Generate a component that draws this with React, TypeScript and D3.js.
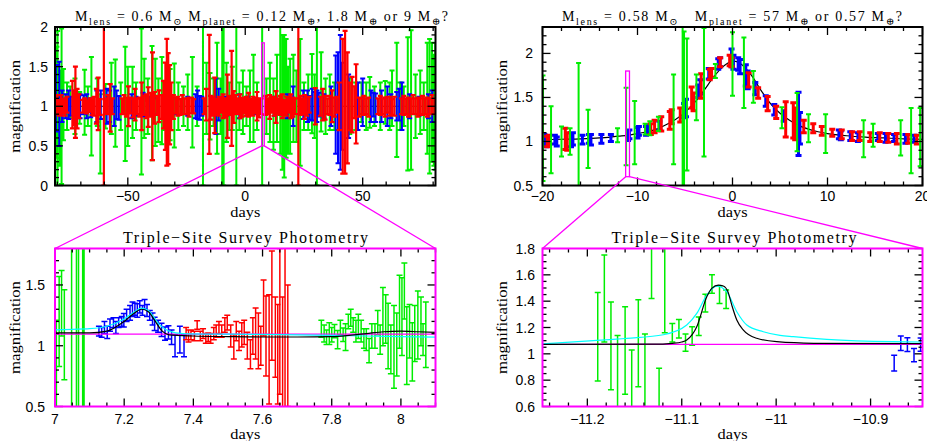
import React from "react";
import * as d3 from "d3";

type Pt = [number, number, number]; // [day, magnification, error]
type XY = [number, number];

// ---------------- Panel 1 : whole season ----------------
const p1Green: Pt[] = [
  [-80.9, 1.0, 1.0], [-80.2, 1.05, 0.7], [-79.9, 0.95, 1.0], [-79.0, 0.85, 0.6], [-78.2, 1.0, 0.98], [-77.4, 1.02, 0.45],
  [-75.9, 1.0, 0.3], [-74.5, 1.05, 0.2], [-72.5, 1.0, 0.35], [-70.5, 0.98, 0.2], [-68.4, 1.05, 0.41], [-67.0, 1.0, 0.25],
  [-65.5, 1.0, 0.62], [-63.0, 1.05, 0.3], [-61.7, 0.65, 0.5], [-59.5, 1.0, 0.28], [-57.0, 1.1, 0.45], [-55.3, 1.04, 0.55],
  [-53.0, 1.0, 0.3], [-51.1, 1.03, 0.72], [-50.0, 1.0, 0.5], [-48.0, 1.05, 0.45], [-46.5, 1.0, 0.3], [-44.2, 1.06, 0.92],
  [-43.0, 1.1, 0.5], [-41.5, 1.0, 0.35], [-39.7, 1.04, 0.72], [-38.3, 1.05, 0.55], [-37.0, 0.95, 0.4], [-35.5, 1.07, 0.55],
  [-34.0, 1.0, 0.3], [-32.0, 1.02, 0.45], [-30.2, 1.01, 0.53], [-28.5, 1.0, 0.3], [-26.3, 1.0, 0.25], [-24.5, 1.05, 0.35],
  [-22.5, 1.05, 0.57], [-20.5, 1.0, 0.25], [-18.0, 1.0, 1.0], [-16.5, 1.1, 0.45], [-15.0, 1.0, 0.42], [-13.5, 1.05, 0.3],
  [-12.0, 1.1, 0.7], [-10.5, 1.0, 0.35], [-9.8, 1.0, 1.0], [-9.2, 1.0, 1.0], [-8.0, 1.05, 0.5], [-6.8, 1.0, 0.3],
  [-5.5, 1.1, 0.4], [-3.8, 1.0, 1.0], [-2.5, 1.0, 0.3], [-1.0, 1.05, 0.4], [0.5, 1.0, 0.25], [2.0, 1.0, 0.45],
  [3.5, 1.1, 0.55], [5.0, 1.0, 0.3], [7.2, 1.0, 1.0], [9.0, 1.0, 0.35], [10.5, 1.05, 0.5], [12.0, 0.9, 0.45],
  [13.5, 1.1, 0.55], [14.9, 1.2, 0.8], [15.8, 1.05, 0.85], [16.6, 1.0, 0.9], [17.4, 1.1, 0.75], [18.2, 0.95, 0.55],
  [19.1, 1.0, 0.6], [20.5, 1.1, 0.55], [21.8, 1.0, 0.45], [23.4, 1.05, 0.8], [25.0, 1.0, 0.3], [26.8, 1.05, 0.35],
  [28.4, 1.16, 0.5], [29.5, 1.0, 0.4], [30.5, 1.0, 1.0], [32.3, 1.18, 0.5], [34.2, 1.0, 0.35], [36.0, 1.05, 0.35],
  [38.0, 1.0, 0.3], [44.5, 1.0, 0.35], [47.0, 1.0, 0.3], [49.5, 1.05, 0.25], [51.5, 1.0, 0.3], [53.0, 1.05, 0.32],
  [55.0, 1.0, 0.25], [57.5, 1.0, 0.3], [59.6, 1.05, 0.27], [61.5, 1.0, 0.3], [62.5, 1.1, 0.35], [64.5, 1.08, 0.72],
  [66.0, 1.0, 0.3], [67.5, 1.0, 0.25], [69.2, 1.03, 0.84], [70.6, 1.08, 0.88], [72.5, 1.0, 0.4], [74.5, 1.05, 0.4],
  [76.0, 1.0, 0.3], [77.5, 1.1, 0.7], [78.5, 1.0, 0.85], [79.5, 1.05, 0.75], [80.3, 0.95, 0.7], [80.9, 1.0, 0.8],
];
const p1Blue: Pt[] = [
  [-80.6, 1.1, 0.42], [-79.2, 1.03, 0.53], [-78.0, 1.0, 0.2], [-76.5, 1.0, 0.15], [-75.2, 1.02, 0.18], [-74.3, 1.0, 0.12],
  [-70.3, 1.0, 0.15], [-68.8, 1.02, 0.12], [-67.5, 1.0, 0.15], [-65.8, 0.98, 0.12], [-63.2, 1.0, 0.2], [-61.5, 1.02, 0.18],
  [-59.0, 1.0, 0.22], [-57.8, 1.0, 0.2], [-55.8, 1.0, 0.25], [-54.8, 1.02, 0.18], [-53.8, 0.98, 0.15], [-48.4, 1.0, 0.15],
  [-46.5, 1.0, 0.12], [-43.5, 1.02, 0.15], [-41.0, 1.0, 0.12], [-37.4, 1.0, 0.1], [-29.2, 1.0, 0.1], [-24.5, 1.0, 0.12],
  [-21.2, 1.0, 0.15], [-20.3, 1.02, 0.18], [-19.4, 0.98, 0.15], [-18.5, 1.0, 0.12], [-12.5, 1.0, 0.35], [-11.3, 1.02, 0.2],
  [-8.0, 1.0, 0.12], [-2.5, 1.0, 0.15], [1.0, 1.0, 0.12], [4.6, 1.0, 0.1], [12.5, 1.0, 0.12], [18.0, 1.0, 0.15],
  [20.4, 1.0, 0.25], [24.7, 1.02, 0.18], [26.5, 1.0, 0.2], [27.5, 0.98, 0.15], [28.5, 1.02, 0.2], [29.5, 1.0, 0.18],
  [30.5, 1.0, 0.2], [31.3, 1.02, 0.15], [33.5, 1.0, 0.15], [36.5, 1.0, 0.25], [38.5, 1.02, 0.62], [39.5, 0.98, 0.7],
  [40.5, 1.05, 0.85], [41.3, 1.0, 0.55], [44.0, 1.0, 0.4], [48.0, 1.0, 0.3], [50.0, 1.05, 0.3], [53.5, 1.0, 0.2],
  [54.5, 1.02, 0.15], [55.5, 0.98, 0.18], [58.0, 1.0, 0.2], [60.5, 1.0, 0.25], [62.0, 1.0, 0.15], [64.5, 1.0, 0.18],
  [65.5, 1.02, 0.2], [66.7, 1.0, 0.3], [70.0, 1.0, 0.15], [74.0, 1.0, 0.12], [78.0, 1.0, 0.15], [79.6, 1.0, 0.2],
];
const p1Red: Pt[] = [
  [-80.8, 1.0, 0.1], [-80.0, 1.02, 0.12], [-79.2, 0.98, 0.1], [-78.4, 1.01, 0.13], [-77.6, 1.0, 0.09], [-76.8, 0.99, 0.11],
  [-75.9, 1.02, 0.1], [-73.6, 1.02, 0.3], [-73.0, 0.98, 0.22], [-72.3, 1.05, 0.45], [-71.6, 0.97, 0.25], [-70.8, 1.0, 0.15],
  [-69.2, 1.0, 0.08], [-68.4, 1.01, 0.09], [-67.6, 0.99, 0.08], [-66.8, 1.0, 0.07], [-66.0, 1.02, 0.08], [-65.2, 0.99, 0.1],
  [-64.4, 1.0, 0.12], [-63.4, 1.0, 0.22], [-62.6, 1.03, 0.33], [-61.8, 0.99, 0.1], [-60.2, 1.0, 1.0], [-59.4, 1.0, 0.1],
  [-58.5, 1.02, 0.12], [-57.5, 0.98, 0.3], [-56.6, 1.0, 0.1], [-52.5, 1.0, 0.1], [-51.6, 1.02, 0.12], [-50.6, 0.99, 0.12],
  [-49.7, 1.0, 0.25], [-48.8, 1.01, 0.1], [-47.8, 0.98, 0.12], [-46.9, 1.02, 0.2], [-46.0, 1.0, 0.1], [-45.0, 0.99, 0.12],
  [-44.1, 1.0, 0.3], [-43.2, 1.01, 0.12], [-42.2, 1.0, 0.15], [-41.3, 0.99, 0.25], [-40.3, 1.02, 0.15], [-39.5, 1.0, 0.68],
  [-38.6, 0.98, 0.2], [-37.6, 1.01, 0.12], [-36.7, 1.0, 0.2], [-35.7, 0.99, 0.15], [-34.8, 1.02, 0.3], [-34.0, 1.0, 0.55],
  [-33.4, 1.05, 0.8], [-32.8, 0.97, 0.7], [-32.2, 1.02, 0.5], [-31.5, 1.0, 0.3], [-30.6, 0.99, 0.15], [-29.6, 1.01, 0.1],
  [-28.7, 1.0, 0.12], [-27.7, 0.99, 0.1], [-26.8, 1.02, 0.12], [-25.8, 1.0, 0.1], [-24.8, 1.0, 0.1], [-23.9, 0.99, 0.12],
  [-22.9, 1.01, 0.1], [-22.0, 1.0, 0.09], [-17.5, 1.0, 0.1], [-16.6, 1.02, 0.2], [-15.3, 1.15, 0.75], [-14.8, 0.98, 0.15],
  [-13.9, 1.0, 0.12], [-13.0, 1.01, 0.35], [-12.1, 0.99, 0.1], [-11.2, 1.0, 0.12], [-10.3, 1.02, 0.1], [-9.4, 1.0, 0.15],
  [-8.5, 0.98, 0.12], [-7.6, 1.0, 0.4], [-6.7, 1.01, 0.12], [-5.8, 1.1, 0.6], [-4.9, 0.99, 0.2], [-4.0, 1.02, 0.12],
  [-3.1, 1.0, 0.1], [-2.2, 1.0, 0.15], [-1.3, 0.99, 0.12], [-0.4, 1.01, 0.1], [0.5, 1.0, 0.12], [1.4, 1.02, 0.15],
  [2.3, 0.99, 0.1], [3.2, 1.0, 0.12], [4.1, 1.01, 0.1], [5.0, 1.0, 0.18], [5.9, 0.98, 0.12], [6.8, 1.0, 0.1],
  [8.6, 1.01, 0.12], [9.5, 1.0, 0.1], [10.4, 0.99, 0.15], [11.3, 1.02, 0.1], [12.2, 1.0, 0.12], [13.1, 0.99, 0.2],
  [14.0, 1.0, 0.1], [14.9, 1.01, 0.12], [15.8, 1.0, 0.15], [16.7, 0.98, 0.1], [17.6, 1.0, 0.12], [18.5, 1.02, 0.1],
  [19.4, 1.0, 0.15], [20.3, 0.99, 0.12], [21.2, 1.0, 0.1], [22.6, 1.0, 1.0], [23.5, 1.01, 0.12], [24.4, 1.0, 0.1],
  [25.3, 0.99, 0.15], [26.2, 1.0, 0.12], [27.2, 1.02, 0.1], [29.8, 1.0, 0.23], [32.0, 1.0, 0.12], [33.0, 1.02, 0.2],
  [34.0, 0.98, 0.15], [35.0, 1.0, 0.1], [36.0, 1.01, 0.12], [37.0, 1.0, 0.2], [38.0, 0.99, 0.12], [39.0, 1.02, 0.1],
  [40.0, 1.0, 0.3], [41.5, 1.0, 0.85], [42.5, 1.05, 0.9], [43.5, 0.98, 0.7], [44.5, 1.0, 0.3], [45.5, 1.02, 0.35],
  [46.5, 1.05, 0.2], [47.2, 1.03, 0.5], [48.5, 0.99, 0.12], [49.5, 1.0, 0.1], [50.5, 1.01, 0.12], [51.5, 1.0, 0.1],
  [52.5, 0.99, 0.12], [56.5, 1.0, 0.1], [57.5, 1.01, 0.12], [58.5, 1.0, 0.1], [59.5, 0.99, 0.12], [60.5, 1.02, 0.1],
  [61.5, 1.0, 0.12], [62.5, 0.99, 0.1], [63.5, 1.0, 0.12], [66.5, 1.0, 0.1], [67.5, 1.01, 0.12], [68.5, 1.0, 0.1],
  [69.5, 0.99, 0.12], [70.5, 1.0, 0.1], [71.5, 1.02, 0.12], [72.5, 1.0, 0.1], [73.5, 0.99, 0.12], [74.5, 1.0, 0.1],
  [75.5, 1.01, 0.12], [76.5, 1.0, 0.1], [77.5, 0.99, 0.12], [78.5, 1.0, 0.1], [79.5, 1.02, 0.12], [80.5, 1.0, 0.1],
];
const p1Model: XY[] = [[-81, 1.0], [81, 1.0]];

// ---------------- Panel 2 : peak of the event ----------------
const p2Blue: Pt[] = [
  [-19.8, 1.02, 0.06], [-19.6, 1.0, 0.06], [-18.7, 1.02, 0.05], [-18.5, 1.0, 0.05], [-17.0, 1.02, 0.08], [-16.8, 1.03, 0.07],
  [-15.8, 1.02, 0.05], [-15.1, 1.03, 0.05], [-14.9, 1.02, 0.06], [-13.8, 1.03, 0.05], [-12.8, 1.04, 0.04], [-11.0, 1.07, 0.06],
  [-10.85, 1.08, 0.05], [-10.0, 1.1, 0.06], [-9.85, 1.12, 0.05], [-9.1, 1.12, 0.05], [-8.9, 1.14, 0.05], [-7.7, 1.18, 0.05],
  [-5.1, 1.35, 0.08], [-4.9, 1.38, 0.1], [-3.6, 1.57, 0.07], [-3.4, 1.62, 0.08], [-2.5, 1.77, 0.06], [-1.5, 1.88, 0.06],
  [-1.3, 1.9, 0.05], [-0.1, 1.95, 0.1], [0.1, 1.9, 0.08], [0.6, 1.88, 0.07], [0.8, 1.85, 0.08], [1.4, 1.75, 0.12],
  [1.6, 1.7, 0.1], [2.4, 1.6, 0.07], [3.5, 1.46, 0.06], [4.4, 1.36, 0.06], [5.4, 1.29, 0.06], [6.95, 1.2, 0.36],
  [7.1, 1.15, 0.18], [11.2, 1.08, 0.05], [11.4, 1.07, 0.05], [12.4, 1.06, 0.05], [13.2, 1.05, 0.05], [15.3, 1.05, 0.04],
  [16.1, 1.04, 0.05], [17.0, 1.04, 0.04], [18.2, 1.03, 0.05], [19.1, 1.03, 0.04],
];
const p2Red: Pt[] = [
  [-19.5, 1.0, 0.06], [-19.3, 1.02, 0.05], [-17.6, 1.03, 0.12], [-17.4, 1.0, 0.1], [-8.6, 1.14, 0.06], [-8.2, 1.17, 0.07],
  [-7.5, 1.2, 0.08], [-6.6, 1.24, 0.1], [-6.4, 1.28, 0.08], [-5.5, 1.3, 0.08], [-4.3, 1.5, 0.12], [-4.1, 1.45, 0.1],
  [-3.3, 1.63, 0.14], [-2.4, 1.76, 0.06], [-2.2, 1.78, 0.05], [-1.3, 1.9, 0.05], [-0.3, 1.92, 0.06], [-0.1, 1.9, 0.05],
  [1.7, 1.7, 0.08], [2.7, 1.55, 0.06], [3.7, 1.43, 0.08], [4.6, 1.33, 0.07], [5.6, 1.25, 0.2], [6.4, 1.24, 0.2],
  [6.6, 1.2, 0.18], [7.5, 1.17, 0.07], [8.5, 1.15, 0.05], [9.4, 1.12, 0.05], [10.5, 1.1, 0.04], [11.5, 1.08, 0.05],
  [12.6, 1.06, 0.05], [13.4, 1.06, 0.05], [14.5, 1.05, 0.05], [15.5, 1.05, 0.05], [16.4, 1.04, 0.05], [17.3, 1.03, 0.06],
  [18.5, 1.03, 0.05], [19.4, 1.02, 0.05],
];
const p2Green: Pt[] = [
  [-19.95, 1.15, 0.6], [-19.1, 1.02, 0.38], [-18.0, 1.0, 0.17], [-17.1, 1.0, 0.15], [-16.2, 1.15, 0.74], [-15.2, 1.03, 0.33],
  [-12.1, 1.07, 0.08], [-11.2, 1.17, 0.44], [-10.3, 1.1, 0.36], [-9.2, 1.14, 0.06], [-8.7, 1.15, 0.08], [-7.8, 1.2, 0.08],
  [-6.2, 1.25, 0.51], [-5.25, 1.4, 1.0], [-5.1, 1.3, 0.95], [-4.8, 1.42, 0.75], [-3.8, 1.5, 0.26], [-3.0, 1.56, 0.73],
  [-1.8, 1.8, 0.08], [0.0, 1.88, 0.36], [1.2, 1.78, 0.4], [2.2, 1.62, 0.18], [5.2, 1.27, 0.12], [6.8, 1.22, 0.33],
  [8.0, 1.15, 0.16], [9.8, 1.09, 0.22], [13.8, 1.03, 0.21], [14.8, 1.07, 0.13], [17.7, 1.04, 0.2], [18.8, 1.01, 0.37],
  [19.75, 1.05, 0.33],
];
const p2Model: XY[] = [
  [-20, 1.02], [-18, 1.025], [-16, 1.03], [-14, 1.04], [-12, 1.06], [-11, 1.07], [-10, 1.09], [-9, 1.11], [-8, 1.14],
  [-7, 1.19], [-6, 1.25], [-5, 1.33], [-4, 1.44], [-3, 1.58], [-2, 1.73], [-1, 1.85], [-0.3, 1.9], [0.3, 1.91], [1, 1.87],
  [2, 1.75], [3, 1.58], [4, 1.43], [5, 1.32], [6, 1.24], [7, 1.18], [8, 1.14], [9, 1.11], [10, 1.09], [12, 1.065],
  [14, 1.05], [16, 1.04], [18, 1.03], [20, 1.025],
];

// ---------------- Panel 3 : zoom on day 7-8 ----------------
const p3Green: Pt[] = [
  [7.004, 0.85, 0.36], [7.012, 1.2, 0.37], [7.019, 1.35, 0.27], [7.027, 1.09, 0.37], [7.048, 1.0, 1.0], [7.062, 1.1, 1.0],
  [7.068, 1.2, 1.0], [7.08, 0.9, 1.0], [7.084, 1.0, 1.0],
  [7.77, 1.14, 0.07], [7.778, 1.1, 0.07], [7.785, 1.07, 0.06], [7.793, 1.1, 0.09], [7.8, 1.09, 0.06], [7.808, 1.12, 0.055],
  [7.817, 1.05, 0.075], [7.825, 1.15, 0.06], [7.833, 1.09, 0.055], [7.84, 1.07, 0.11], [7.848, 1.2, 0.06], [7.855, 1.23, 0.07],
  [7.862, 1.17, 0.06], [7.87, 1.12, 0.09], [7.877, 1.16, 0.1], [7.885, 1.12, 0.09], [7.893, 1.06, 0.08], [7.9, 1.05, 0.09],
  [7.908, 0.96, 0.1], [7.916, 1.08, 0.1], [7.925, 1.08, 0.1], [7.933, 1.19, 0.1], [7.94, 1.05, 0.12], [7.948, 1.24, 0.24],
  [7.956, 1.22, 0.2], [7.963, 1.08, 0.27], [7.971, 0.97, 0.2], [7.98, 0.99, 0.34], [7.988, 1.01, 0.26], [7.996, 1.28, 0.3],
  [8.003, 1.24, 0.32], [8.01, 1.45, 0.23], [8.017, 1.0, 0.32], [8.025, 1.12, 0.22], [8.033, 0.95, 0.24], [8.04, 1.1, 0.23],
  [8.049, 1.17, 0.28], [8.058, 1.2, 0.2], [8.064, 1.05, 0.13], [8.072, 1.09, 0.27],
];
const p3Blue: Pt[] = [
  [7.127, 1.12, 0.04], [7.135, 1.11, 0.04], [7.143, 1.15, 0.05], [7.151, 1.11, 0.05], [7.159, 1.17, 0.05], [7.169, 1.19, 0.04],
  [7.176, 1.15, 0.05], [7.184, 1.19, 0.04], [7.193, 1.2, 0.04], [7.199, 1.21, 0.055], [7.207, 1.25, 0.05], [7.217, 1.27, 0.06],
  [7.224, 1.3, 0.06], [7.231, 1.3, 0.05], [7.238, 1.29, 0.055], [7.245, 1.32, 0.05], [7.253, 1.29, 0.04], [7.259, 1.34, 0.04],
  [7.266, 1.29, 0.05], [7.274, 1.25, 0.04], [7.282, 1.22, 0.05], [7.288, 1.18, 0.055], [7.298, 1.16, 0.05], [7.308, 1.13, 0.055],
  [7.318, 1.1, 0.055], [7.328, 1.11, 0.055], [7.337, 1.07, 0.06], [7.347, 1.0, 0.09], [7.361, 1.05, 0.11], [7.373, 1.0, 0.09],
];
const p3Red: Pt[] = [
  [7.379, 1.1, 0.05], [7.386, 1.08, 0.05], [7.393, 1.09, 0.04], [7.403, 1.08, 0.04], [7.411, 1.17, 0.035], [7.42, 1.08, 0.04],
  [7.428, 1.1, 0.04], [7.436, 1.06, 0.04], [7.443, 1.07, 0.035], [7.45, 1.06, 0.04], [7.459, 1.1, 0.05], [7.466, 1.12, 0.05],
  [7.474, 1.15, 0.05], [7.482, 1.12, 0.05], [7.491, 1.17, 0.06], [7.498, 1.19, 0.06], [7.508, 1.08, 0.09], [7.517, 0.99, 0.1],
  [7.524, 1.12, 0.08], [7.532, 1.04, 0.08], [7.54, 1.09, 0.1], [7.547, 1.11, 0.1], [7.556, 1.0, 0.11], [7.565, 0.93, 0.12],
  [7.572, 1.08, 0.15], [7.58, 1.1, 0.21], [7.588, 1.04, 0.23], [7.595, 1.0, 0.16], [7.603, 1.31, 0.23], [7.61, 1.08, 0.33],
  [7.619, 0.97, 0.45], [7.627, 1.33, 0.45], [7.637, 1.07, 0.33], [7.644, 0.93, 0.41], [7.65, 1.2, 0.6], [7.658, 0.93, 0.47],
  [7.665, 1.2, 0.8], [7.673, 1.0, 0.5],
];
const p3Black: XY[] = [
  [7.0, 1.105], [7.1, 1.105], [7.15, 1.12], [7.2, 1.2], [7.23, 1.27], [7.25, 1.3], [7.27, 1.28], [7.29, 1.2], [7.31, 1.12],
  [7.33, 1.09], [7.4, 1.08], [7.5, 1.075], [7.6, 1.072], [7.7, 1.072], [7.8, 1.075], [7.85, 1.085], [7.9, 1.1],
  [7.95, 1.115], [8.0, 1.12], [8.05, 1.115], [8.1, 1.11],
];
const p3Cyan: XY[] = [
  [7.0, 1.13], [7.05, 1.135], [7.1, 1.14], [7.15, 1.16], [7.2, 1.22], [7.23, 1.28], [7.25, 1.31], [7.27, 1.29], [7.3, 1.18],
  [7.33, 1.12], [7.37, 1.1], [7.5, 1.095], [7.7, 1.09], [7.8, 1.085], [7.9, 1.08], [8.0, 1.075], [8.1, 1.07],
];
const p3Magenta: XY[] = [[7.0, 1.095], [8.1, 1.095]];

// ---------------- Panel 4 : zoom on day -11.25 .. -10.85 ----------------
const p4Green: Pt[] = [
  [-11.189, 1.13, 0.336], [-11.182, 1.42, 0.33], [-11.175, 1.06, 0.333], [-11.168, 0.81, 0.33], [-11.16, 1.025, 0.332],
  [-11.153, 0.69, 0.34], [-11.146, 1.08, 0.33], [-11.139, 0.81, 0.34], [-11.132, 1.75, 0.33], [-11.124, 0.55, 0.34],
  [-11.118, 1.49, 0.33], [-11.11, 1.16, 0.07], [-11.103, 1.19, 0.07], [-11.096, 1.085, 0.065], [-11.089, 1.135, 0.07],
  [-11.082, 1.21, 0.07], [-11.075, 1.385, 0.067], [-11.068, 1.53, 0.07], [-11.06, 1.45, 0.067], [-11.053, 1.415, 0.07],
];
const p4Blue: Pt[] = [
  [-10.875, 0.93, 0.06], [-10.868, 1.08, 0.055], [-10.861, 1.07, 0.053], [-10.854, 0.99, 0.05], [-10.847, 1.07, 0.05],
];
const p4Black: XY[] = [
  [-11.2475, 1.072], [-11.13, 1.073], [-11.11, 1.08], [-11.1, 1.09], [-11.0947, 1.105], [-11.0841, 1.206], [-11.0735, 1.433],
  [-11.0682, 1.497], [-11.0612, 1.522], [-11.056, 1.515], [-11.051, 1.47], [-11.047, 1.37], [-11.0417, 1.257],
  [-11.0347, 1.18], [-11.0206, 1.118], [-10.9994, 1.092], [-10.96, 1.08], [-10.845, 1.077],
];
const p4Cyan: XY[] = [
  [-11.2475, 1.075], [-11.1936, 1.1], [-11.1583, 1.118], [-11.1195, 1.145], [-11.0947, 1.219], [-11.0841, 1.307],
  [-11.0735, 1.446], [-11.0629, 1.514], [-11.0523, 1.471], [-11.0417, 1.32], [-11.0311, 1.219], [-11.0136, 1.168],
  [-10.9959, 1.14], [-10.9818, 1.13], [-10.9465, 1.11], [-10.8758, 1.092], [-10.845, 1.09],
];
const p4Magenta: XY[] = [[-11.2475, 1.072], [-10.845, 1.072]];

// ---------------- ticks & titles ----------------
const p1XTicks = [-50, 0, 50];
const p1YTicks = [0, 0.5, 1, 1.5, 2];
const p2XTicks = [-20, -10, 0, 10, 20];
const p2YTicks = [0.5, 1, 1.5, 2];
const p3XTicks = [7, 7.2, 7.4, 7.6, 7.8, 8];
const p3YTicks = [0.5, 1, 1.5];
const p4XTicks = [-11.2, -11.1, -11, -10.9];
const p4YTicks = [0.6, 0.8, 1, 1.2, 1.4, 1.6, 1.8];
const zoomTitle = "Triple\u2212Site Survey Photometry";
const xTitle = "days";
const yTitle = "magnification";
const title1Parts: [string, string][] = [
  ["M", "lens"], [" = 0.6 M", "\u2299"], [" M", "planet"], [" = 0.12 M", "\u2295"], [", 1.8 M", "\u2295"], [" or 9 M", "\u2295"], ["?", ""],
];
const title2Parts: [string, string][] = [
  ["M", "lens"], [" = 0.58 M", "\u2299"], ["   M", "planet"], [" = 57 M", "\u2295"], [" or 0.57 M", "\u2295"], ["?", ""],
];

const GREEN = "#00ee00";
const BLUE = "#0000ff";
const RED = "#ff0000";
const CYAN = "#00ffff";
const MAGENTA = "#ff00ff";

const SERIF = "'Liberation Serif', 'DejaVu Serif', serif";
const SANS = "'Liberation Sans', Arial, sans-serif";

type Box = { l: number; r: number; t: number; b: number };
type SeriesSpec = { data: Pt[]; color: string; cap: number; sw: number };
type CurveSpec = { data: XY[]; color: string; sw: number };

function minorList(d: [number, number], step: number) {
  const out: number[] = [];
  for (let k = Math.ceil(d[0] / step - 1e-6); k * step <= d[1] + 1e-9; k++) out.push(k * step);
  return out;
}

function Panel(props: {
  id: string; box: Box; xd: [number, number]; yd: [number, number];
  xTicks: number[]; xMinor: number; yTicks: number[]; yMinor: number;
  frame: string; series: SeriesSpec[]; curves: CurveSpec[]; curvesOnTop: boolean;
  yLabelRight: number; xLabelBase: number; yTitleX: number; xTitleBase: number;
}) {
  const { id, box, xd, yd, xTicks, xMinor, yTicks, yMinor, frame, series, curves, curvesOnTop } = props;
  const x = d3.scaleLinear().domain(xd).range([box.l, box.r]);
  const y = d3.scaleLinear().domain(yd).range([box.b, box.t]);
  const fmt = d3.format("");
  const line = d3.line<XY>().x((d) => x(d[0])).y((d) => y(d[1])).curve(d3.curveMonotoneX);
  const isMajor = (v: number, list: number[]) => list.some((m) => Math.abs(m - v) < 1e-6);
  const bars = (s: SeriesSpec, si: number) => {
    let p = "";
    s.data.forEach(([t, m, e]) => {
      const cx = x(t), y0 = y(m - e), y1 = y(m + e);
      p += `M${cx},${y0}V${y1}M${cx - s.cap},${y1}h${2 * s.cap}M${cx - s.cap},${y0}h${2 * s.cap}`;
    });
    return <path key={si} d={p} stroke={s.color} strokeWidth={s.sw} fill="none" />;
  };
  const curveEls = curves.map((c, i) => (
    <path key={"c" + i} d={line(c.data) || ""} stroke={c.color} strokeWidth={c.sw} fill="none" />
  ));
  const xm = minorList(xd, xMinor);
  const ym = minorList(yd, yMinor);
  const tickEls: React.ReactNode[] = [];
  xm.forEach((v, i) => {
    const L = isMajor(v, xTicks) ? 8 : 4;
    const px = x(v);
    tickEls.push(<line key={"xb" + i} x1={px} x2={px} y1={box.b} y2={box.b - L} />);
    tickEls.push(<line key={"xt" + i} x1={px} x2={px} y1={box.t} y2={box.t + L} />);
  });
  ym.forEach((v, i) => {
    const L = isMajor(v, yTicks) ? 8 : 4;
    const py = y(v);
    tickEls.push(<line key={"yl" + i} x1={box.l} x2={box.l + L} y1={py} y2={py} />);
    tickEls.push(<line key={"yr" + i} x1={box.r} x2={box.r - L} y1={py} y2={py} />);
  });
  const cx = (box.l + box.r) / 2;
  const cy = (box.t + box.b) / 2;
  return (
    <g>
      <defs>
        <clipPath id={id}>
          <rect x={box.l} y={box.t} width={box.r - box.l} height={box.b - box.t} />
        </clipPath>
      </defs>
      <g clipPath={`url(#${id})`}>
        {!curvesOnTop && curveEls}
        {series.map(bars)}
        {curvesOnTop && curveEls}
      </g>
      <g stroke="#000" strokeWidth={1.3}>{tickEls}</g>
      <rect x={box.l} y={box.t} width={box.r - box.l} height={box.b - box.t} fill="none" stroke={frame} strokeWidth={2} />
      <g fontFamily={SANS} fontSize={14} fill="#000">
        {xTicks.map((v) => (
          <text key={"xl" + v} x={x(v)} y={props.xLabelBase} textAnchor="middle">{fmt(v)}</text>
        ))}
        {yTicks.map((v) => (
          <text key={"yl" + v} x={props.yLabelRight} y={y(v) + 5} textAnchor="end">{fmt(v)}</text>
        ))}
      </g>
      <text x={cx} y={props.xTitleBase} textAnchor="middle" fontFamily={SERIF} fontSize={15} textLength={30} lengthAdjust="spacingAndGlyphs">{xTitle}</text>
      <text transform={`translate(${props.yTitleX},${cy}) rotate(-90)`} textAnchor="middle" fontFamily={SERIF} fontSize={15} textLength={93} lengthAdjust="spacingAndGlyphs">{yTitle}</text>
    </g>
  );
}

function MassTitle(props: { x: number; y: number; len: number; parts: [string, string][] }) {
  // each part: [normal text, subscript]; the normal text returns to the baseline after a subscript
  const nodes: React.ReactNode[] = [];
  props.parts.forEach(([n, s], i) => {
    const prevSub = i > 0 && props.parts[i - 1][1] !== "";
    nodes.push(<tspan key={"n" + i} dy={prevSub ? -4 : 0}>{n}</tspan>);
    if (s) nodes.push(<tspan key={"s" + i} fontSize={10} dy={4}>{s}</tspan>);
  });
  return (
    <text x={props.x} y={props.y} fontFamily={SERIF} fontSize={14} textLength={props.len} lengthAdjust="spacing" style={{ whiteSpace: "pre" }}>
      {nodes}
    </text>
  );
}

export default function App() {
  const B1: Box = { l: 55, r: 435.5, t: 27, b: 185.5 };
  const B2: Box = { l: 542.5, r: 922.5, t: 27, b: 185.5 };
  const B3: Box = { l: 55, r: 435.5, t: 248.5, b: 406.5 };
  const B4: Box = { l: 542.5, r: 922.5, t: 248.5, b: 406.5 };
  const d1: [number, number] = [-81, 81];
  const y1d: [number, number] = [0, 2];
  const d2: [number, number] = [-20, 20];
  const y2d: [number, number] = [0.5, 2.3];
  const d3x: [number, number] = [7, 8.1];
  const y3d: [number, number] = [0.5, 1.8];
  const d4: [number, number] = [-11.2475, -10.845];
  const y4d: [number, number] = [0.6, 1.8];

  const x1 = d3.scaleLinear().domain(d1).range([B1.l, B1.r]);
  const yy1 = d3.scaleLinear().domain(y1d).range([B1.b, B1.t]);
  const x2 = d3.scaleLinear().domain(d2).range([B2.l, B2.r]);
  const yy2 = d3.scaleLinear().domain(y2d).range([B2.b, B2.t]);

  const z1 = { l: x1(d3x[0]), r: x1(d3x[1]), t: yy1(y3d[1]), b: yy1(y3d[0]) };
  const z2 = { l: x2(d4[0]), r: x2(d4[1]), t: yy2(y4d[1]), b: yy2(y4d[0]) };

  return (
    <svg width={927} height={441} style={{ position: "absolute", left: 0, top: 0, background: "#fff" }}>
      <rect width={927} height={441} fill="#fff" />
      <Panel id="c1" box={B1} xd={d1} yd={y1d} xTicks={p1XTicks} xMinor={10} yTicks={p1YTicks} yMinor={0.1}
        frame="#000" curvesOnTop={false}
        series={[
          { data: p1Green, color: GREEN, cap: 2.5, sw: 2 },
          { data: p1Blue, color: BLUE, cap: 2.5, sw: 2 },
          { data: p1Red, color: RED, cap: 2.5, sw: 2.2 },
        ]}
        curves={[{ data: p1Model, color: "#000", sw: 1 }]}
        yLabelRight={48} xLabelBase={201} yTitleX={20} xTitleBase={217} />
      <Panel id="c2" box={B2} xd={d2} yd={y2d} xTicks={p2XTicks} xMinor={2} yTicks={p2YTicks} yMinor={0.1}
        frame="#000" curvesOnTop={false}
        series={[
          { data: p2Blue, color: BLUE, cap: 3, sw: 3 },
          { data: p2Red, color: RED, cap: 3, sw: 3 },
          { data: p2Green, color: GREEN, cap: 2.5, sw: 2 },
        ]}
        curves={[{ data: p2Model, color: "#000", sw: 1.2 }]}
        yLabelRight={533} xLabelBase={201} yTitleX={506.5} xTitleBase={217} />
      <Panel id="c3" box={B3} xd={d3x} yd={y3d} xTicks={p3XTicks} xMinor={0.05} yTicks={p3YTicks} yMinor={0.1}
        frame={MAGENTA} curvesOnTop={true}
        series={[
          { data: p3Green, color: GREEN, cap: 3, sw: 1.5 },
          { data: p3Blue, color: BLUE, cap: 3, sw: 1.5 },
          { data: p3Red, color: RED, cap: 3, sw: 1.5 },
        ]}
        curves={[
          { data: p3Magenta, color: MAGENTA, sw: 1.2 },
          { data: p3Cyan, color: CYAN, sw: 1.2 },
          { data: p3Black, color: "#000", sw: 1.2 },
        ]}
        yLabelRight={45} xLabelBase={424} yTitleX={20} xTitleBase={439} />
      <Panel id="c4" box={B4} xd={d4} yd={y4d} xTicks={p4XTicks} xMinor={0.02} yTicks={p4YTicks} yMinor={0.05}
        frame={MAGENTA} curvesOnTop={true}
        series={[
          { data: p4Green, color: GREEN, cap: 3, sw: 1.5 },
          { data: p4Blue, color: BLUE, cap: 3, sw: 1.5 },
        ]}
        curves={[
          { data: p4Magenta, color: MAGENTA, sw: 1.2 },
          { data: p4Cyan, color: CYAN, sw: 1.2 },
          { data: p4Black, color: "#000", sw: 1.2 },
        ]}
        yLabelRight={535} xLabelBase={424} yTitleX={506.5} xTitleBase={439} />

      {/* zoom boxes and connectors */}
      <g stroke={MAGENTA} strokeWidth={1.3} fill="none">
        <rect x={z1.l} y={z1.t} width={z1.r - z1.l} height={z1.b - z1.t} />
        <line x1={z1.l} y1={z1.b} x2={B3.l} y2={B3.t} />
        <line x1={z1.r} y1={z1.b} x2={B3.r} y2={B3.t} />
        <rect x={z2.l} y={z2.t} width={z2.r - z2.l} height={z2.b - z2.t} />
        <line x1={z2.l} y1={z2.b} x2={B4.l} y2={B4.t} />
        <line x1={z2.r} y1={z2.b} x2={B4.r} y2={B4.t} />
      </g>

      <MassTitle x={75} y={20.5} len={373} parts={title1Parts} />
      <MassTitle x={562} y={20.5} len={340} parts={title2Parts} />
      <text x={245.5} y={242.5} textAnchor="middle" fontFamily={SERIF} fontSize={16} textLength={245} lengthAdjust="spacing">{zoomTitle}</text>
      <text x={734} y={242.5} textAnchor="middle" fontFamily={SERIF} fontSize={16} textLength={245} lengthAdjust="spacing">{zoomTitle}</text>
    </svg>
  );
}
